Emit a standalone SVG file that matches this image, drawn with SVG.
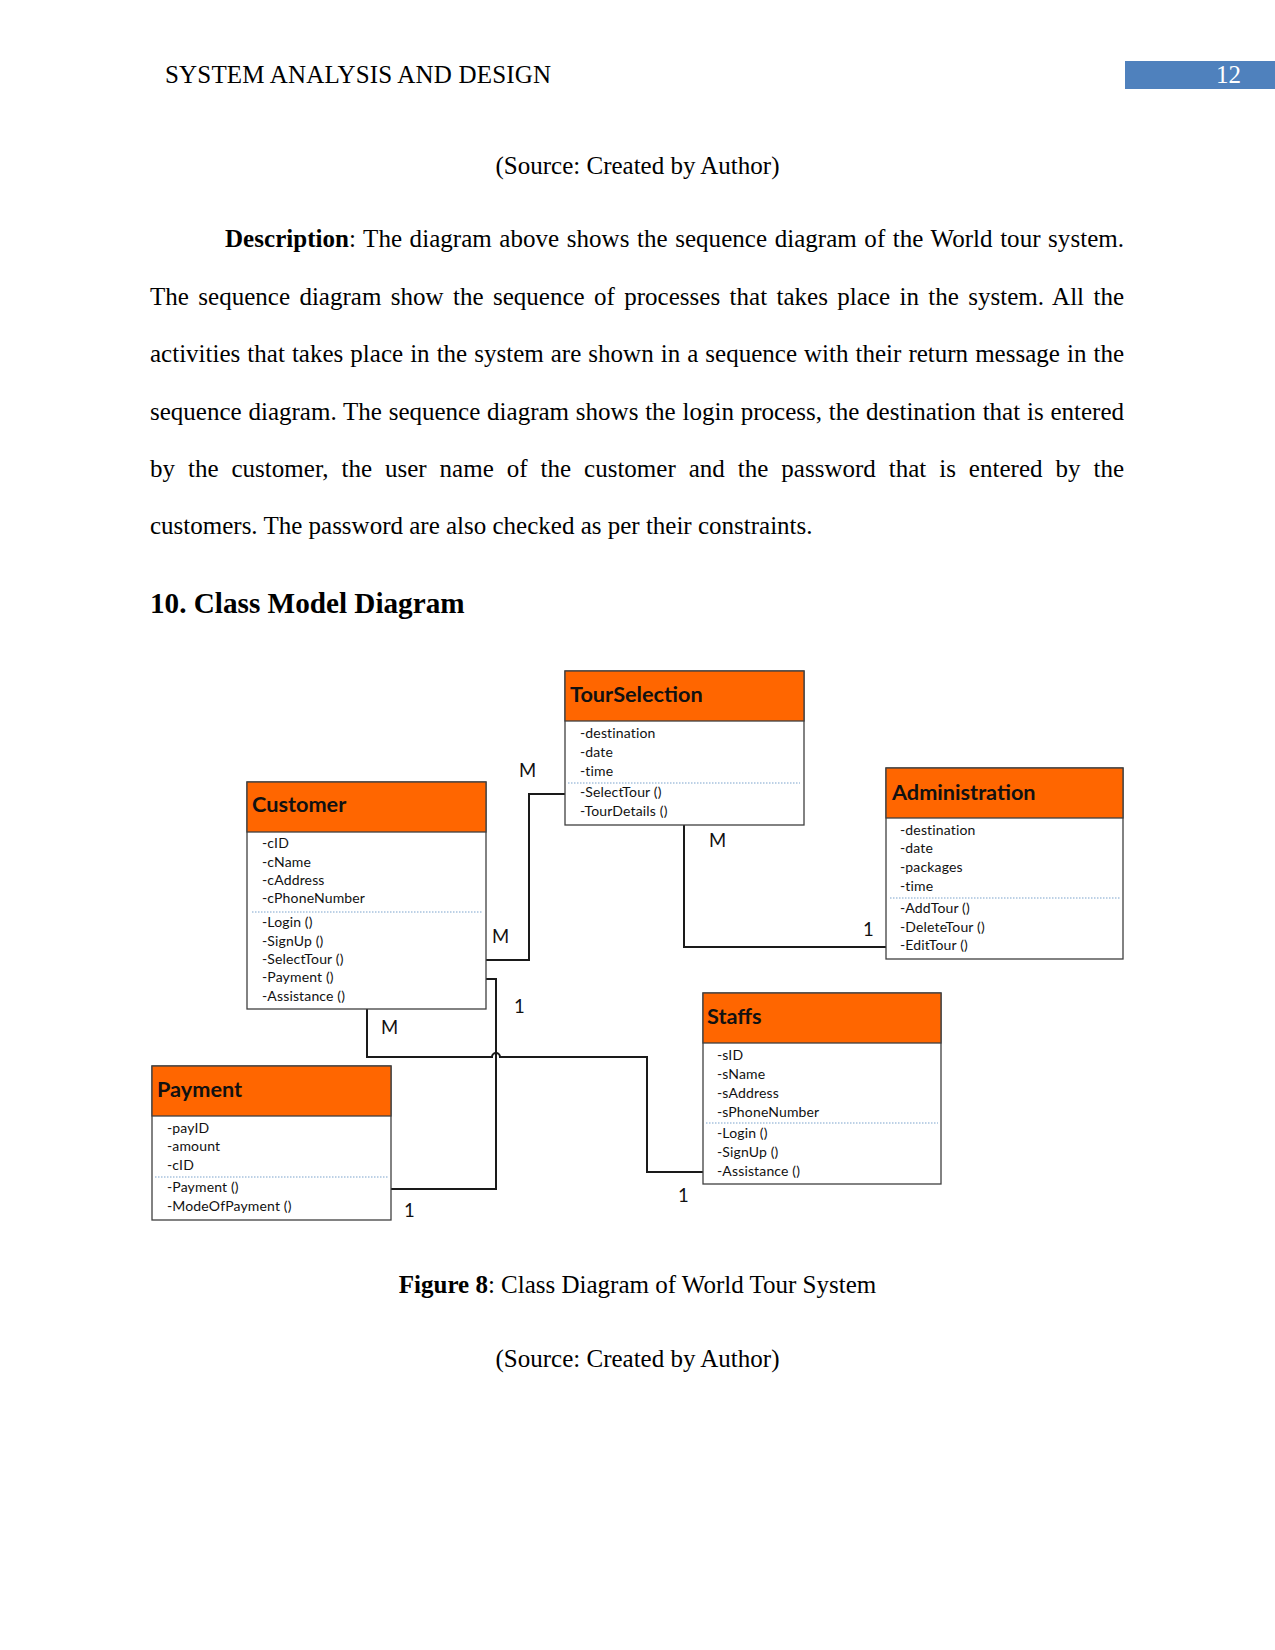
<svg xmlns="http://www.w3.org/2000/svg" width="1275" height="1650" viewBox="0 0 1275 1650">
<style>
.serif{font-family:"Liberation Serif","Times New Roman",serif;font-size:25px;fill:#000}
.b{font-weight:bold}
.box{fill:#fff;stroke:#404040;stroke-width:1.3}
.hdr{fill:#FF6600;stroke:#404040;stroke-width:1.3}
.title{font-family:Lato,"Open Sans",sans-serif;font-weight:bold;font-size:21.7px;fill:#111}
.item{font-family:Lato,"Open Sans",sans-serif;font-size:14px;letter-spacing:0.15px;fill:#111}
.sep{stroke:#7BA3CC;stroke-width:1;stroke-dasharray:1.5 1.5}
.conn{fill:none;stroke:#1a1a1a;stroke-width:2}
.lbl{font-family:Lato,"Open Sans",sans-serif;font-size:18.5px;fill:#111}
</style>
<rect width="1275" height="1650" fill="#fff"/>
<g id="page-header">
<text class="serif" x="165" y="83" textLength="386" lengthAdjust="spacing">SYSTEM ANALYSIS AND DESIGN</text>
<rect x="1125" y="61" width="150" height="28" fill="#4F81BD"/>
<text class="serif" x="1216" y="83" style="fill:#fff">12</text>
</g>
<g id="body-text">
<text class="serif" x="637.5" y="174" text-anchor="middle">(Source: Created by Author)</text>
<text class="serif" x="225" y="247" word-spacing="1.26" textLength="899" lengthAdjust="spacing"><tspan class="b">Description</tspan>: The diagram above shows the sequence diagram of the World tour system.</text>
<text class="serif" x="150" y="304.5" word-spacing="3.1" textLength="974" lengthAdjust="spacing">The sequence diagram show the sequence of processes that takes place in the system. All the</text>
<text class="serif" x="150" y="362" word-spacing="0.81" textLength="974" lengthAdjust="spacing">activities that takes place in the system are shown in a sequence with their return message in the</text>
<text class="serif" x="150" y="419.5" word-spacing="0.53" textLength="974" lengthAdjust="spacing">sequence diagram. The sequence diagram shows the login process, the destination that is entered</text>
<text class="serif" x="150" y="477" word-spacing="6.67" textLength="974" lengthAdjust="spacing">by the customer, the user name of the customer and the password that is entered by the</text>
<text class="serif" x="150" y="534">customers. The password are also checked as per their constraints.</text>
<text class="serif b" x="150" y="613" style="font-size:29.2px">10. Class Model Diagram</text>
</g>
<g id="connectors">
<path class="conn" d="M569 794 H529 V960 H482"/>
<path class="conn" d="M482 979 H496 V1189 H386"/>
<path class="conn" d="M367 1005 V1057 H492 A4 4 0 0 1 500 1057 H647 V1172 H707"/>
<path class="conn" d="M684 825 V947 H892"/>
<text class="lbl" x="519" y="777">M</text>
<text class="lbl" x="492" y="943">M</text>
<text class="lbl" x="709" y="847">M</text>
<text class="lbl" x="863" y="936">1</text>
<text class="lbl" x="514" y="1013">1</text>
<text class="lbl" x="381" y="1034">M</text>
<text class="lbl" x="404" y="1217">1</text>
<text class="lbl" x="678" y="1202">1</text>
</g>
<g id="TourSelection">
<rect class="box" x="565" y="671" width="239" height="154"/>
<rect class="hdr" x="565" y="671" width="239" height="50"/>
<text class="title" x="570" y="702">TourSelection</text>
<text class="item" x="580" y="738">-destination</text>
<text class="item" x="580" y="757">-date</text>
<text class="item" x="580" y="776">-time</text>
<line class="sep" x1="568" y1="783" x2="800" y2="783"/>
<text class="item" x="580" y="797">-SelectTour ()</text>
<text class="item" x="580" y="816">-TourDetails ()</text>
</g>
<g id="Customer">
<rect class="box" x="247" y="782" width="239" height="227"/>
<rect class="hdr" x="247" y="782" width="239" height="50"/>
<text class="title" x="252" y="812">Customer</text>
<text class="item" x="262" y="848">-cID</text>
<text class="item" x="262" y="867">-cName</text>
<text class="item" x="262" y="885">-cAddress</text>
<text class="item" x="262" y="903">-cPhoneNumber</text>
<line class="sep" x1="252" y1="912" x2="483" y2="912"/>
<text class="item" x="262" y="927">-Login ()</text>
<text class="item" x="262" y="946">-SignUp ()</text>
<text class="item" x="262" y="964">-SelectTour ()</text>
<text class="item" x="262" y="982">-Payment ()</text>
<text class="item" x="262" y="1001">-Assistance ()</text>
</g>
<g id="Administration">
<rect class="box" x="886" y="768" width="237" height="191"/>
<rect class="hdr" x="886" y="768" width="237" height="50"/>
<text class="title" x="892" y="800">Administration</text>
<text class="item" x="900" y="835">-destination</text>
<text class="item" x="900" y="853">-date</text>
<text class="item" x="900" y="872">-packages</text>
<text class="item" x="900" y="891">-time</text>
<line class="sep" x1="890" y1="898" x2="1120" y2="898"/>
<text class="item" x="900" y="913">-AddTour ()</text>
<text class="item" x="900" y="932">-DeleteTour ()</text>
<text class="item" x="900" y="950">-EditTour ()</text>
</g>
<g id="Staffs">
<rect class="box" x="703" y="993" width="238" height="191"/>
<rect class="hdr" x="703" y="993" width="238" height="50"/>
<text class="title" x="707" y="1024">Staffs</text>
<text class="item" x="717" y="1060">-sID</text>
<text class="item" x="717" y="1079">-sName</text>
<text class="item" x="717" y="1098">-sAddress</text>
<text class="item" x="717" y="1117">-sPhoneNumber</text>
<line class="sep" x1="706" y1="1123" x2="938" y2="1123"/>
<text class="item" x="717" y="1138">-Login ()</text>
<text class="item" x="717" y="1157">-SignUp ()</text>
<text class="item" x="717" y="1176">-Assistance ()</text>
</g>
<g id="Payment">
<rect class="box" x="152" y="1066" width="239" height="154"/>
<rect class="hdr" x="152" y="1066" width="239" height="50"/>
<text class="title" x="157" y="1097">Payment</text>
<text class="item" x="167" y="1133">-payID</text>
<text class="item" x="167" y="1151">-amount</text>
<text class="item" x="167" y="1170">-cID</text>
<line class="sep" x1="155" y1="1177" x2="388" y2="1177"/>
<text class="item" x="167" y="1192">-Payment ()</text>
<text class="item" x="167" y="1211">-ModeOfPayment ()</text>
</g>
<g id="caption">
<text class="serif" x="637.5" y="1293" text-anchor="middle"><tspan class="b">Figure 8</tspan>: Class Diagram of World Tour System</text>
<text class="serif" x="637.5" y="1367" text-anchor="middle">(Source: Created by Author)</text>
</g>
</svg>
